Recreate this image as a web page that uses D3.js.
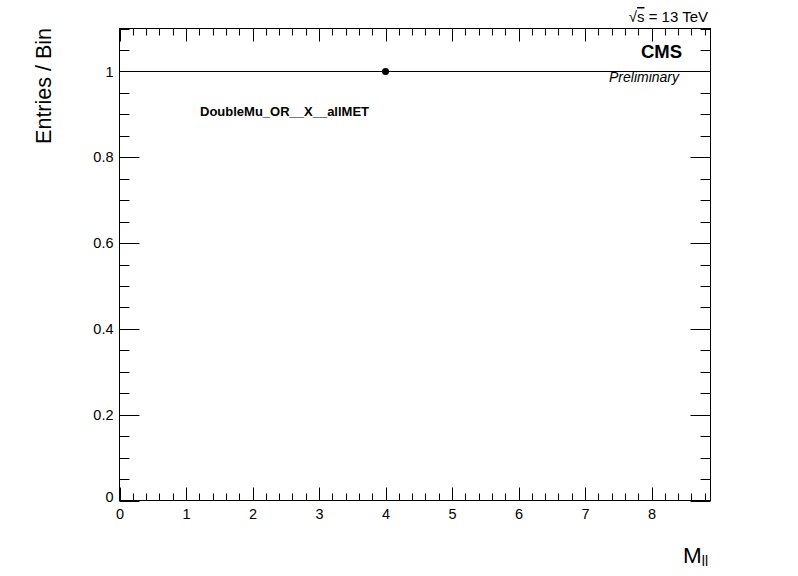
<!DOCTYPE html>
<html><head><meta charset="utf-8">
<script src="https://cdn.jsdelivr.net/npm/d3@7"></script>
<style>body{margin:0;background:#fff;} text{font-family:"Liberation Sans",Arial,Helvetica,sans-serif;}</style>
</head><body><svg id="c" width="798" height="576"></svg>
<script>
// Data
const binCenters = [4.0];
const binValues = [1.0];
const binLow = [0.0];
const binHigh = [8.887];
const xDomain = [0, 8.887];
const yDomain = [0, 1.1];
const xMajorTicks = [0,1,2,3,4,5,6,7,8];
const yMajorTicks = [0,0.2,0.4,0.6,0.8,1];
const yTickLabels = ["0","0.2","0.4","0.6","0.8","1"];
const channelLabel = "DoubleMu_OR__X__allMET";

const svg = d3.select("#c");
const L = 119.5, R = 710.5, T = 28.5, B = 500.5;
const x = d3.scaleLinear().domain(xDomain).range([L, R]);
const y = d3.scaleLinear().domain(yDomain).range([B, T]);

// minor ticks
const xMinor = d3.range(0, 8.887, 0.2).filter(v => Math.abs(v - Math.round(v)) > 1e-6);
const yMinor = d3.range(0, 1.1001, 0.05).filter(v => Math.abs(v*5 - Math.round(v*5)) > 1e-6);

const g = svg.append("g").attr("stroke", "#000").attr("stroke-width", 1).attr("fill", "none");
[B, T].forEach((base, i) => {
  const dir = i === 0 ? -1 : 1;
  g.selectAll(null).data(xMajorTicks).enter().append("line")
    .attr("x1", d => Math.round(x(d)) + 0.5).attr("x2", d => Math.round(x(d)) + 0.5)
    .attr("y1", base).attr("y2", base + dir * 13);
  g.selectAll(null).data(xMinor).enter().append("line")
    .attr("x1", d => Math.round(x(d)) + 0.5).attr("x2", d => Math.round(x(d)) + 0.5)
    .attr("y1", base).attr("y2", base + dir * 7);
});
[L, R].forEach((base, i) => {
  const dir = i === 0 ? 1 : -1;
  g.selectAll(null).data(yMajorTicks).enter().append("line")
    .attr("y1", d => Math.round(y(d)) + 0.5).attr("y2", d => Math.round(y(d)) + 0.5)
    .attr("x1", base).attr("x2", base + dir * 20);
  g.selectAll(null).data(yMinor).enter().append("line")
    .attr("y1", d => Math.round(y(d)) + 0.5).attr("y2", d => Math.round(y(d)) + 0.5)
    .attr("x1", base).attr("x2", base + dir * 10);
});
g.append("rect").attr("x", L).attr("y", T).attr("width", R - L).attr("height", B - T);

// axis labels via d3 axes
const xAx = d3.axisBottom(x).tickValues(xMajorTicks).tickSize(0).tickPadding(0).tickFormat(d3.format("d"));
const xg = svg.append("g").attr("transform", `translate(0,${B})`).call(xAx);
xg.select(".domain").remove();
xg.selectAll("text").attr("font-size", 14.5).attr("dy", "1.25em").attr("fill", "#000")
  .style("font-family", "Liberation Sans, Arial, sans-serif");
const yAx = d3.axisLeft(y).tickValues(yMajorTicks).tickSize(0).tickPadding(6)
  .tickFormat((d, i) => yTickLabels[i]);
const yg = svg.append("g").attr("transform", `translate(${L},0)`).call(yAx);
yg.select(".domain").remove();
yg.selectAll("text").attr("font-size", 14.5).attr("fill", "#000")
  .style("font-family", "Liberation Sans, Arial, sans-serif");
yg.selectAll(".tick").filter(d => d === 0).select("text").attr("dy", "0.1em");

// data
const pts = binCenters.map((c, i) => ({c, v: binValues[i], lo: binLow[i], hi: binHigh[i]}));
svg.selectAll(null).data(pts).enter().append("line")
  .attr("x1", d => x(d.lo)).attr("x2", d => x(d.hi))
  .attr("y1", d => Math.round(y(d.v)) + 0.5).attr("y2", d => Math.round(y(d.v)) + 0.5)
  .attr("stroke", "#000").attr("stroke-width", 1);
svg.selectAll(null).data(pts).enter().append("circle")
  .attr("cx", d => x(d.c)).attr("cy", d => Math.round(y(d.v)) + 0.5).attr("r", 3.5).attr("fill", "#000");

// texts
const st = svg.append("text").attr("x", 708).attr("y", 22).attr("text-anchor", "end")
  .attr("font-size", 15).attr("fill", "#000");
st.append("tspan").text("\u221A");
st.append("tspan").style("text-decoration", "overline").text("s");
st.append("tspan").text(" = 13 TeV");
svg.append("text").attr("x", 682).attr("y", 57.5).attr("text-anchor", "end")
  .attr("font-size", 18.5).attr("font-weight", "bold").attr("fill", "#000").text("CMS");
svg.append("text").attr("x", 679).attr("y", 82).attr("text-anchor", "end")
  .attr("font-size", 14).attr("font-style", "italic").attr("fill", "#000").text("Preliminary");
svg.append("text").attr("x", 200).attr("y", 116).attr("font-size", 13)
  .attr("font-weight", "bold").attr("fill", "#000").text(channelLabel);

// axis titles
svg.append("text").attr("transform", "translate(51,28) rotate(-90)").attr("text-anchor", "end")
  .attr("font-size", 21.5).attr("fill", "#000").text("Entries / Bin");
const xt = svg.append("text").attr("x", 708).attr("y", 563).attr("text-anchor", "end")
  .attr("font-size", 22.5).attr("fill", "#000");
xt.append("tspan").text("M");
xt.append("tspan").attr("font-size", 14).attr("dy", 3).text("ll");
</script></body></html>
